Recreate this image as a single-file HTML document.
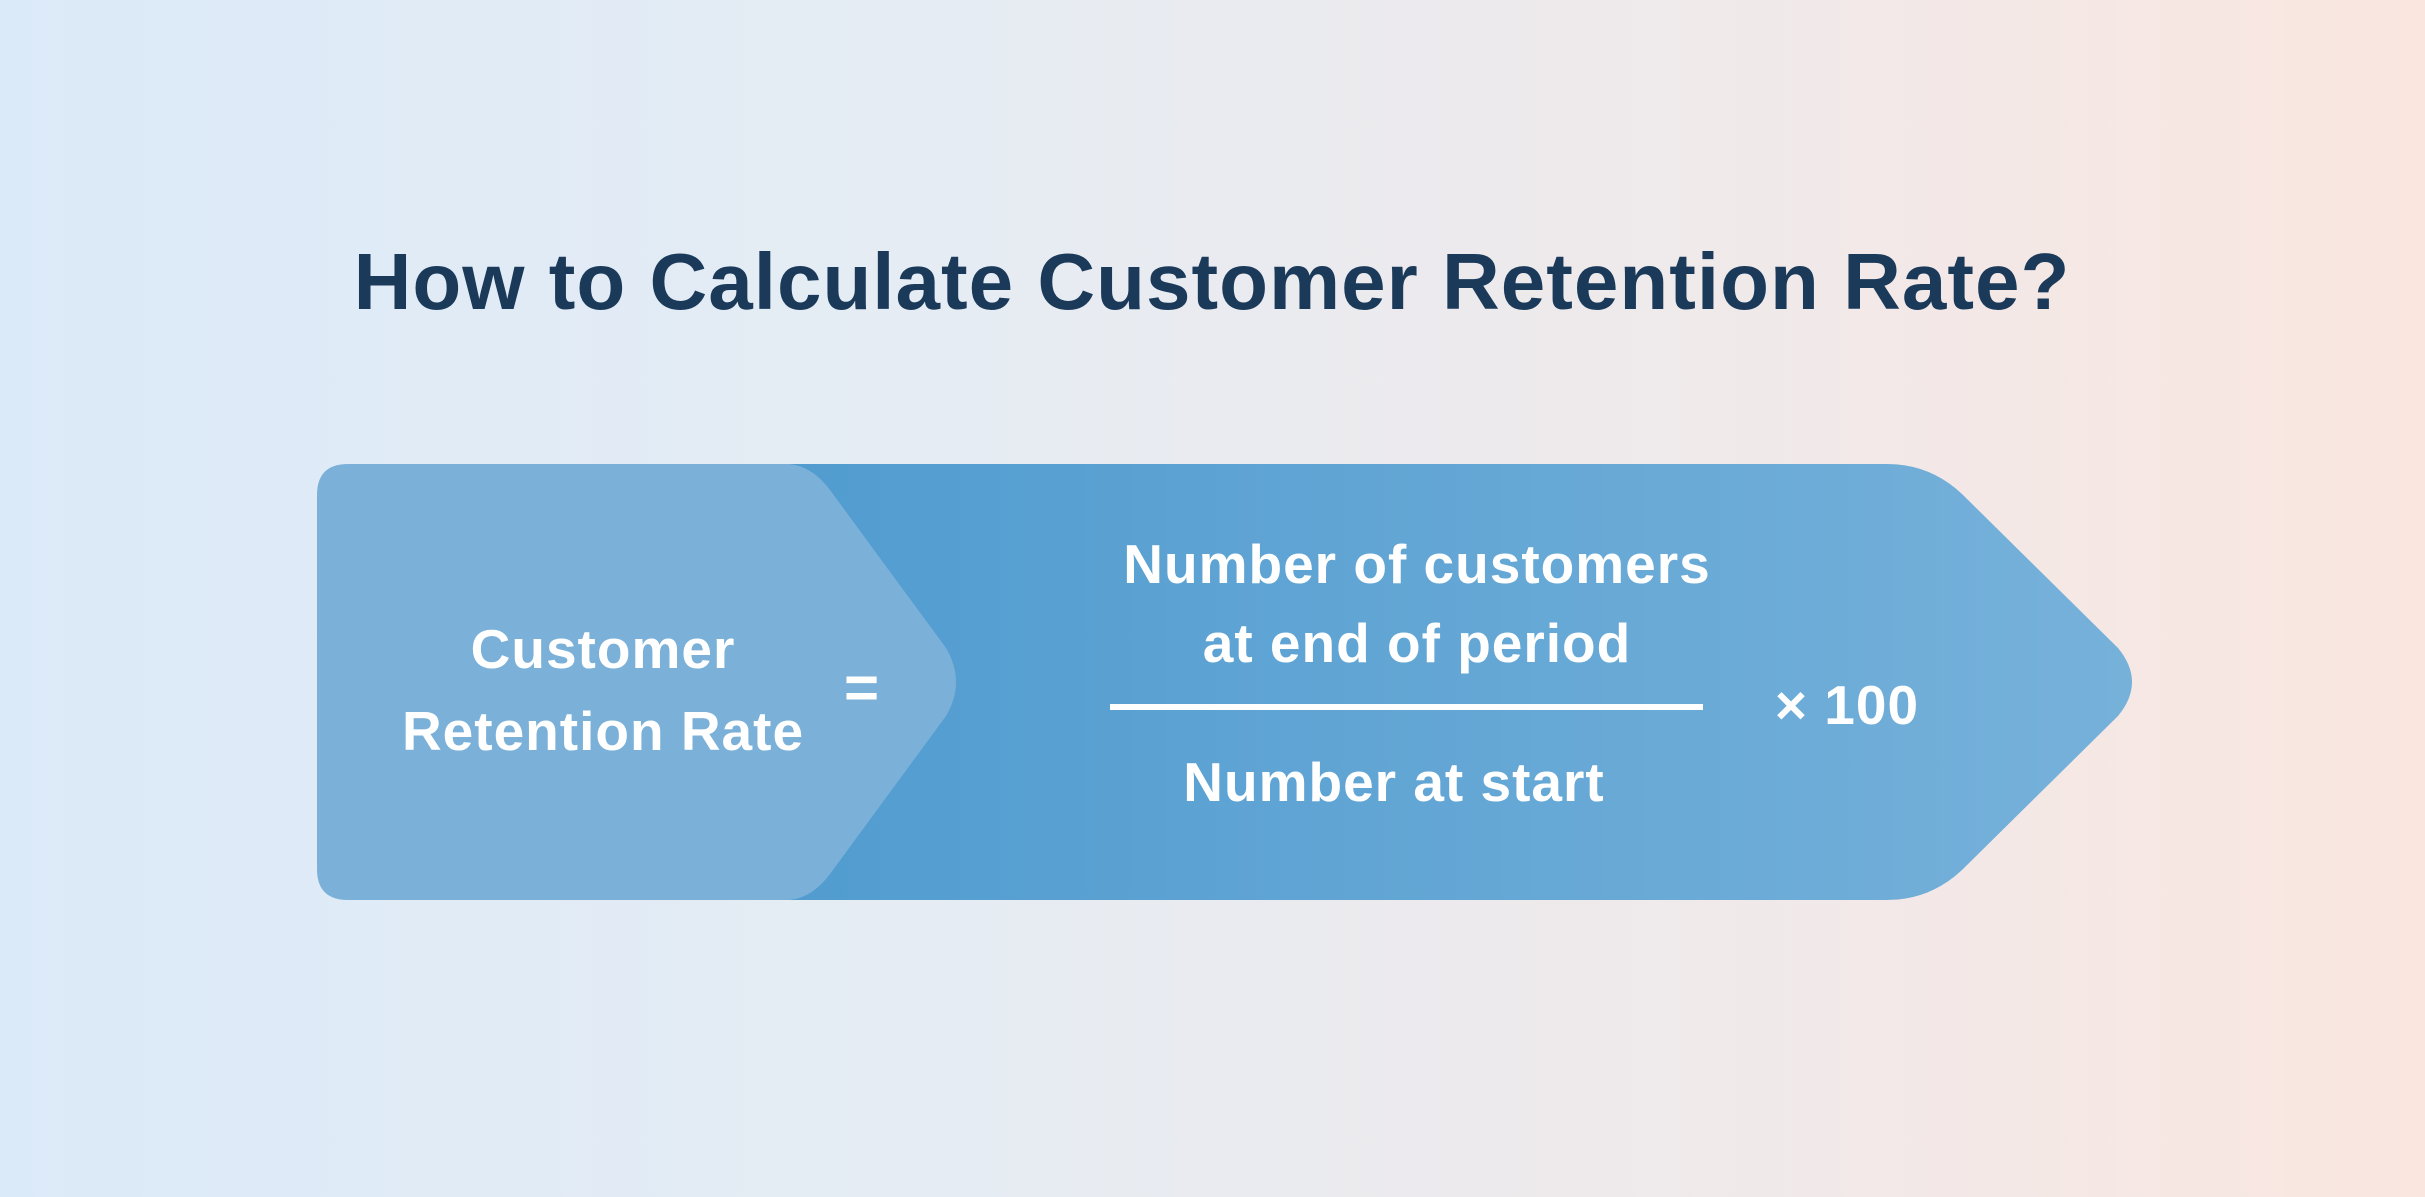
<!DOCTYPE html>
<html><head><meta charset="utf-8"><style>
html,body{margin:0;padding:0;width:2425px;height:1197px;overflow:hidden}
body{background:linear-gradient(90deg,#dbeaf9 0%,#e6ecf3 40%,#f1e9e9 75%,#fae6df 100%)}
svg{display:block}
text{font-family:"Liberation Sans",sans-serif;font-weight:bold}
</style></head><body>
<svg width="2425" height="1197" viewBox="0 0 2425 1197">
<defs>
<linearGradient id="g" x1="0" x2="1" y1="0" y2="0">
<stop offset="0" stop-color="#519cd0"/><stop offset="1" stop-color="#76b1da"/>
</linearGradient>
</defs>
<text x="1212" y="309" text-anchor="middle" font-size="80" letter-spacing="1" fill="#1b3a5a">How to Calculate Customer Retention Rate?</text>
<path d="M789 464 L1887 464 Q1930 464 1962 494 L2118 648 Q2146 682 2118 716 L1962 870 Q1930 900 1887 900 L789 900 Z" fill="url(#g)"/>
<path d="M348 464 L789 464 Q812 466 830 490 L946 648 Q966 682 946 716 L830 874 Q812 898 789 900 L348 900 Q317 900 317 869 L317 495 Q317 464 348 464 Z" fill="#7bb1d8"/>
<g fill="#ffffff" font-size="55" text-anchor="middle" letter-spacing="1">
<text x="603" y="668">Customer</text>
<text x="603" y="750">Retention Rate</text>
<text x="862" y="708" font-size="60">=</text>
<text x="1417" y="583">Number of customers</text>
<text x="1417" y="662">at end of period</text>
<text x="1394" y="801">Number at start</text>
<text x="1847" y="724">× 100</text>
</g>
<rect x="1110" y="704" width="593" height="6" fill="#ffffff"/>
</svg>
</body></html>
